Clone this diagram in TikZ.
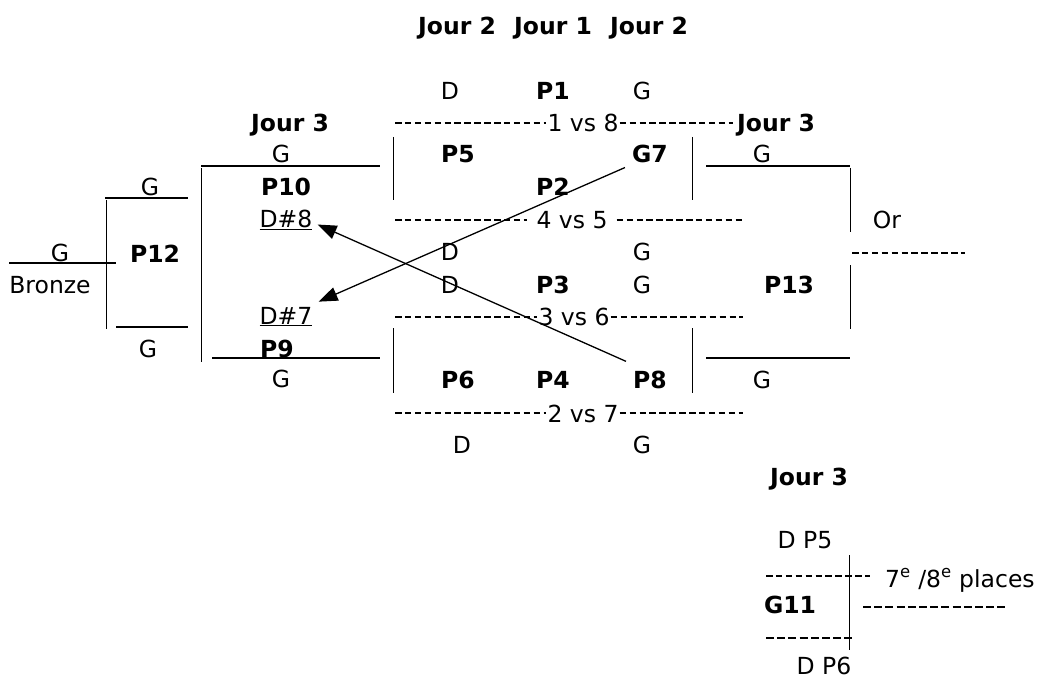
\documentclass[tikz,border=0pt]{standalone}
\usepackage{fontspec}
\setmainfont{DejaVu Sans}
\usetikzlibrary{arrows.meta}

\begin{document}
\begin{tikzpicture}[x=1pt,y=-1pt,>={Triangle[length=19pt,width=14pt]},
                      every node/.style={font=\fontsize{23.5}{28}\selectfont,inner sep=1pt,anchor=base},
                      main node/.style={font=\fontsize{23.5}{28}\selectfont\bfseries},
                      bar line/.style={line width=1.5pt},
                      side line/.style={line width=0.9pt},
                      dash line/.style={line width=1.1pt,dash pattern=on 6.5pt off 3.4pt},
                      thick dash/.style={line width=2.2pt,dash pattern=on 8pt off 3.2pt},
                      link/.style={->,line width=1.3pt}]

    \useasboundingbox (0,0) rectangle (1040,679);

    \node[main node] (t1) at (457,35) {Jour 2};
    \node[main node] (t2) at (553,35) {Jour 1};
    \node[main node] (t3) at (649,35) {Jour 2};

    \node (d1) at (450,100) {D};
    \node[main node] (p1) at (553,100) {P1};
    \node (g1) at (642,100) {G};

    \node[main node] (j3a) at (290,132) {Jour 3};
    \node (r18) at (583,132) {1 vs 8};
    \node[main node] (j3b) at (776,132) {Jour 3};

    \node (g10a) at (281,163) {G};
    \node[main node] (p5) at (458,163) {P5};
    \node[main node] (g7) at (650,163) {G7};
    \node (g13a) at (762,163) {G};

    \node (g12a) at (150,195) {G};
    \node[main node] (p10) at (286,195) {P10};
    \node[main node] (p2) at (553,195) {P2};

    \node (d8) at (286,227) {\underline{D\#8}};
    \node[inner xsep=9pt] (r45) at (572,228) {4 vs 5};
    \node (gold) at (887,228) {Or};

    \node (gb) at (60,261) {G};
    \node[main node] (p12) at (155,262) {P12};
    \node (d2) at (450,260) {D};
    \node (g2) at (642,260) {G};

    \node (bronze) at (50,293) {Bronze};
    \node (d3) at (450,293) {D};
    \node[main node] (p3) at (553,293) {P3};
    \node (g3) at (642,293) {G};
    \node[main node] (p13) at (789,293) {P13};

    \node (d7) at (286,324) {\underline{D\#7}};
    \node (r36) at (574,325) {3 vs 6};

    \node (g12b) at (148,357) {G};
    \node[main node] (p9) at (277,357) {P9};

    \node (g10b) at (281,387) {G};
    \node[main node] (p6) at (458,388) {P6};
    \node[main node] (p4) at (553,388) {P4};
    \node[main node] (p8) at (650,388) {P8};
    \node (g13b) at (762,388) {G};

    \node (r27) at (583,422) {2 vs 7};
    \node (d4) at (462,453) {D};
    \node (g4) at (642,453) {G};

    \node[main node] (j3c) at (809,485) {Jour 3};
    \node (dp5) at (805,548) {D P5};
    \node[anchor=base west] (place) at (884,587) {7\textsuperscript{e} /8\textsuperscript{e} places};
    \node[main node] (g11) at (790,613) {G11};
    \node (dp6) at (824,674) {D P6};

    % bronze bracket
    \draw[bar line] (9,263) -- (116,263);
    \draw[side line] (106,200) -- (106,329);
    \draw[bar line] (105,198) -- (188,198);
    \draw[bar line] (116,327) -- (188,327);
    \draw[side line] (201,168) -- (201,362);
    \draw[bar line] (201,166) -- (380,166);
    \draw[bar line] (212,358) -- (380,358);

    \draw[side line] (393,137) -- (393,200) (692,137) -- (692,200);
    \draw[side line] (393,328) -- (393,393) (692,328) -- (692,393);

    % or bracket
    \draw[line width=2.3pt] (706,166) -- (850,166);
    \draw[bar line] (706,358) -- (850,358);
    \draw[side line] (850,168) -- (850,232) (850,265) -- (850,329);
    \draw[dash line] (852,253) -- (965,253);

    \draw[dash line] (395,123) -- (r18.west |- 0,123) (r18.east |- 0,123) -- (733,123);
    \draw[dash line] (395,220) -- (r45.west |- 0,220) (r45.east |- 0,220) -- (742,220);
    \draw[dash line] (395,317) -- (r36.west |- 0,317) (r36.east |- 0,317) -- (743,317);
    \draw[dash line] (395,413) -- (r27.west |- 0,413) (r27.east |- 0,413) -- (743,413);

    % 7e/8e places
    \draw[side line] (849,555) -- (849,650);
    \draw[dash line] (766,576) -- (870,576);
    \draw[thick dash] (863,607) -- (1008,607);
    \draw[thick dash] (766,638) -- (855,638);

    \path[link] ([shift={(-6,3)}]g7.south west) edge ([shift={(5,-4)}]d7.north east)
                ([shift={(-6,-8)}]p8.north west) edge ([shift={(4,-6)}]d8.south east);

  \end{tikzpicture}
\end{document}
